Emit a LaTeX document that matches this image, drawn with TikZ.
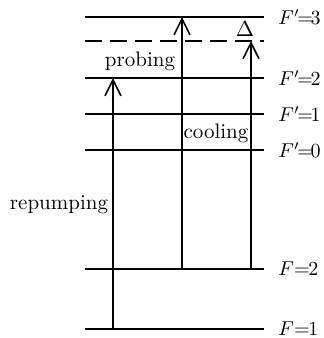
\documentclass[tikz,border=0pt]{standalone}
\usetikzlibrary{arrows.meta}
\begin{document}
\begin{tikzpicture}[x=0.5pt,y=-0.5pt,
    font=\fontsize{10.5pt}{12pt}\selectfont,
    level/.style={line width=0.8pt},
    trans/.style={line width=0.8pt,-{Straight Barb[length=8pt,width=8pt]}},
    lbl/.style={anchor=west,inner sep=0pt,font=\fontsize{10pt}{12pt}\selectfont}]
    \useasboundingbox (0,0) rectangle (323,338);

    % hyperfine levels
    \foreach \name/\y/\txt in {Fe3/17/{$F'\mkern-2mu{=}\mkern-2mu3$},Fe2/78/{$F'\mkern-2mu{=}\mkern-2mu2$},
        Fe1/114/{$F'\mkern-2mu{=}\mkern-2mu1$},Fe0/150/{$F'\mkern-2mu{=}\mkern-2mu0$},
        Fg2/269/{$F{=}\mkern-1mu2$},Fg1/329/{$F{=}\mkern-1mu1$}}{
        \coordinate (\name-l) at (85,\y);
        \coordinate (\name-r) at (264,\y);
        \draw[level] (\name-l) -- (\name-r);
        \node[lbl] (lbl-\name) at ([xshift=7pt]\name-r) {\txt};
    }
    \coordinate (det-l) at (85,41);
    \coordinate (det-r) at (264,41);
    \draw[level, dash pattern=on 8.5pt off 4pt] (det-l) -- (det-r);

    % transitions
    \coordinate (xrep) at (113,0);
    \coordinate (xprobe) at (182,0);
    \coordinate (xcool) at (251,0);
    \draw[trans] (xrep |- Fg1-l) -- (xrep |- Fe2-l);
    \draw[trans] (xprobe |- Fg2-l) -- (xprobe |- Fe3-l);
    \draw[trans] (xcool |- Fg2-l) -- (xcool |- det-l);

    \node (probing) at (140,61) {probing};
    \node (cooling) at (216,133) {cooling};
    \node (repumping) at (59,205) {repumping};
    \node (delta) at (245,29) {$\Delta$};
\end{tikzpicture}
\end{document}
